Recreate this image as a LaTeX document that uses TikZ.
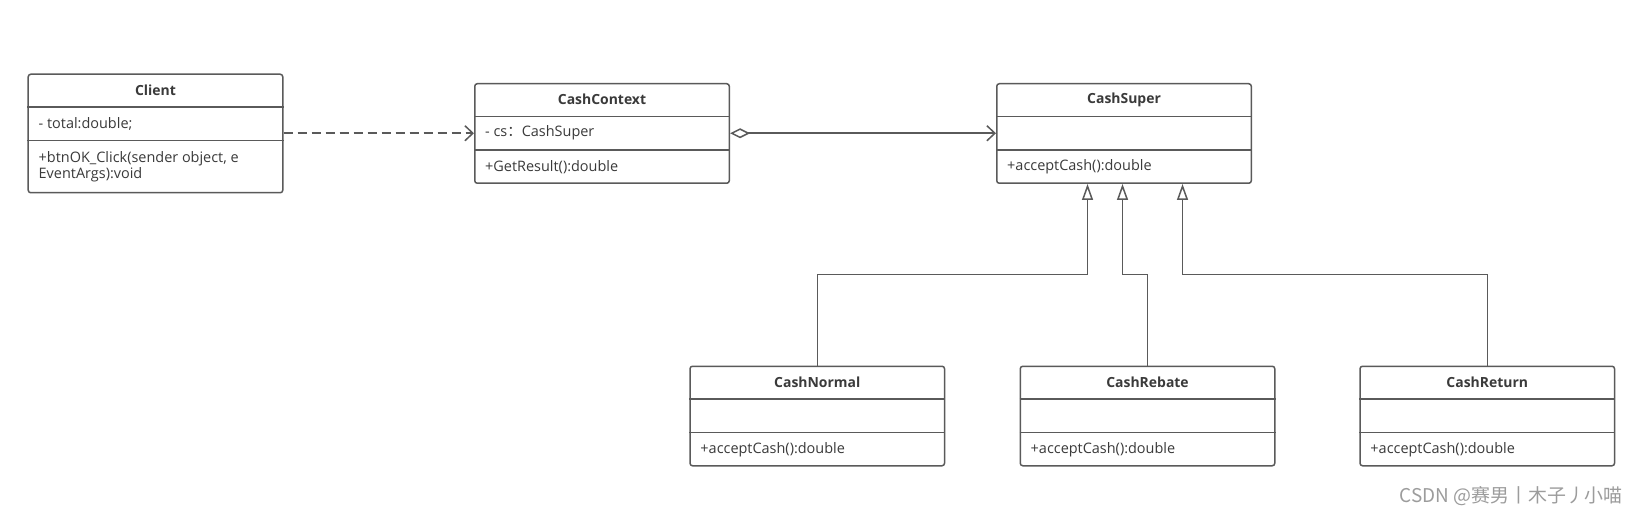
\documentclass[tikz,border=0pt]{standalone}
\usepackage{fontspec}
\setmainfont{Open Sans}
\newfontfamily\cjkfont{Noto Sans CJK SC}
\usetikzlibrary{arrows.meta,positioning,calc}

\definecolor{linegray}{HTML}{5A5A5A}
\definecolor{textgray}{HTML}{3A3A3A}
\definecolor{markgray}{HTML}{9C9C9C}

\tikzset{
  box/.style={draw=linegray,line width=1.5bp,rounded corners=2.5bp,
    minimum width=254.5bp,minimum height=99.5bp,inner sep=0pt},
  sep/.style={draw=linegray,line width=1.5bp},
  title/.style={font=\fontsize{14}{16}\selectfont\bfseries,text=textgray},
  member/.style={font=\fontsize{14.5}{16.5}\selectfont,text=textgray,
    anchor=west,align=left,inner sep=0pt},
  link/.style={draw=linegray,line width=1.5bp},
  inh/.style={link,-{Triangle[open,length=16bp,width=11bp]}},
}

% height, name, placement, title, attribute, method
\newcommand{\umlclass}[6][99.5]{%
  \node[box,minimum height=#1bp,#3] (#2) {};
  \node[title] (#2-t) at ($(#2.north)+(0,16.75)$) {#4};
  \draw[sep] ($(#2.north west)+(0,33.5)$) -- ($(#2.north east)+(0,33.5)$);
  \draw[sep] ($(#2.north west)+(0,67)$) coordinate (#2-b) -- ($(#2.north east)+(0,67)$);
  \coordinate (#2-mid) at ($(#2.north west)+(0,50.25)$);
  \node[member] (#2-a) at ($(#2-mid)+(11,0)$) {#5};
  \node[member] (#2-m) at ($(#2-b)!0.5!(#2.south west)+(11,0)$) {#6};
}

\begin{document}
\begin{tikzpicture}[x=1bp,y=-1bp]
  \useasboundingbox[fill=white] (0,0) rectangle (1638,517);

  \umlclass[118.5]{client}{at={(155.5,133.5)}}{Client}{- total:double;}%
    {+btnOK\_Click(sender object, e\\EventArgs):void}
  \umlclass{context}{right=190.5bp of client}{CashContext}%
    {- cs{\cjkfont ：}CashSuper}{+GetResult():double}
  \umlclass{super}{right=266bp of context}{CashSuper}{}{+acceptCash():double}
  \umlclass{normal}{below=181.5bp of super,xshift=-306.75bp}{CashNormal}{}{+acceptCash():double}
  \umlclass{rebate}{below=181.5bp of super,xshift=23.5bp}{CashRebate}{}{+acceptCash():double}
  \umlclass{return}{below=181.5bp of super,xshift=363.25bp}{CashReturn}{}{+acceptCash():double}

  % dependency and aggregation
  \draw[link,dash pattern=on 9bp off 5bp,-{Straight Barb[length=8bp,width=15bp]}]
    (context-mid -| client.east) -- (context-mid);
  \draw[link,{Diamond[open,length=20bp,width=10bp]}-{Straight Barb[length=8bp,width=15bp]}]
    (context-mid -| context.east) -- (context-mid -| super.west);

  % generalization
  \draw[inh] (normal.north) |- ($(super.south)+(-36.5,90.5)$) -- ($(super.south)+(-36.5,0)$);
  \draw[inh] (rebate.north) |- ($(super.south)+(-1.5,90.5)$) -- ($(super.south)+(-1.5,0)$);
  \draw[inh] (return.north) |- ($(super.south)+(58.5,90.5)$) -- ($(super.south)+(58.5,0)$);

  \node[font=\cjkfont\fontsize{19}{21}\selectfont,text=markgray,anchor=east,inner sep=0pt]
    (mark) at (1623,496) {CSDN @赛男丨木子丿小喵};
\end{tikzpicture}
\end{document}
